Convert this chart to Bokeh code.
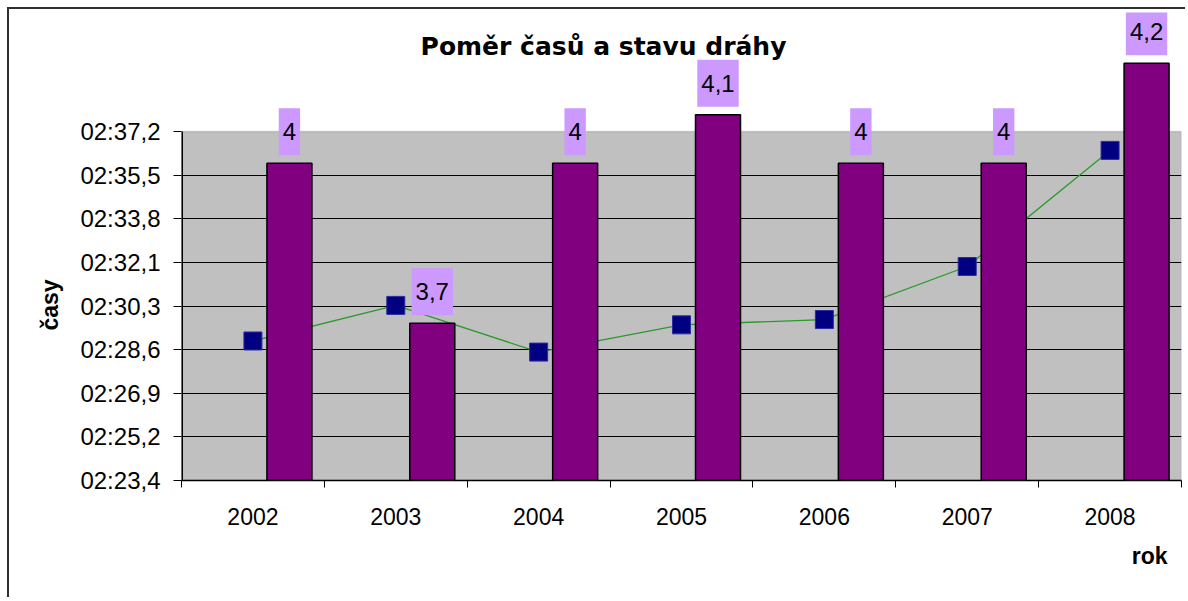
import math
from bokeh.plotting import figure
from bokeh.models import Range1d, FixedTicker, Label, BoxAnnotation, Title
from bokeh.core.properties import value
from bokeh.embed import file_html
from bokeh.resources import INLINE

# ---------------- data ----------------
years = ["2002", "2003", "2004", "2005", "2006", "2007", "2008"]
# stav dráhy (secondary axis, columns)
track_state = [4.0, 3.68, 4.0, 4.097, 4.0, 4.0, 4.2]
# časy in seconds (primary axis, line)
times_sec = [148.95, 150.36, 148.51, 149.59, 149.80, 151.90, 156.50]
# primary axis tick values (seconds)
time_ticks = [143.424, 145.152, 146.88, 148.608, 150.336, 152.064, 153.792, 155.52, 157.248]

title_text = "Poměr časů a stavu dráhy"
y_title = "časy"
x_title = "rok"


def fmt_time(t):
    return f"{int(t // 60):02d}:{t % 60:04.1f}".replace(".", ",")


def fmt_num(v):
    s = f"{v:.1f}"
    if s.endswith(".0"):
        s = s[:-2]
    return s.replace(".", ",")


# ---------------- layout ----------------
OX, OY = 9, 9              # canvas origin on page (margin + border)
W, H = 1178, 590
FR_L, FR_R, FR_T, FR_B = 181, 1181, 12, 480   # frame on page
PX_PER_SEC = 349 / (time_ticks[-1] - time_ticks[0])
SEC_MIN = 3.3654
SEC_PX_PER_UNIT = 500.0

frame_h = FR_B - FR_T
y_lo = time_ticks[0]
y_hi = y_lo + frame_h / PX_PER_SEC
n = len(years)


def px_x(px):
    return (px - FR_L) / (FR_R - FR_L) * n


def px_y(py):
    return y_lo + (FR_B - py) / PX_PER_SEC


p = figure(width=W, height=H, x_range=Range1d(0, n), y_range=Range1d(y_lo, y_hi),
           output_backend="svg", toolbar_location=None,
           min_border_left=FR_L - OX, min_border_right=(OX + W) - FR_R,
           min_border_top=FR_T - OY, min_border_bottom=(OY + H) - FR_B,
           background_fill_color="white", border_fill_color="white",
           outline_line_color=None)
p.styles = {"margin-left": "7px", "margin-top": "7px",
            "border-left": "2px solid #303030", "border-top": "2px solid #303030"}
p.extra_y_ranges = {"sec": Range1d(SEC_MIN, SEC_MIN + frame_h / SEC_PX_PER_UNIT)}

# plot area
p.add_layout(BoxAnnotation(left=0, right=n, bottom=time_ticks[0], top=time_ticks[-1],
                           fill_color="#C0C0C0", fill_alpha=1.0,
                           line_color="#7F7F7F", line_width=1.5, level="image"))

# grid
p.xgrid.visible = False
p.ygrid.ticker = FixedTicker(ticks=time_ticks[1:-1])
p.ygrid.grid_line_color = "black"
p.ygrid.grid_line_width = 1.2

# x axis
centers = [i + 0.5 for i in range(n)]
xa = p.xaxis[0]
xa.ticker = FixedTicker(ticks=centers, minor_ticks=list(range(n + 1)))
xa.major_label_overrides = {c: y for c, y in zip(centers, years)}
xa.major_tick_out = 0
xa.major_tick_in = 0
xa.minor_tick_out = 7
xa.minor_tick_in = 0
xa.minor_tick_line_color = "black"
xa.axis_line_color = "black"
xa.axis_line_width = 1.5
xa.major_label_standoff = 20
xa.major_label_text_font = "Liberation Sans"
xa.major_label_text_font_size = "23px"
xa.major_label_text_color = "black"

# y axis
ya = p.yaxis[0]
ya.ticker = FixedTicker(ticks=time_ticks)
ya.major_label_overrides = {t: fmt_time(t) for t in time_ticks}
ya.axis_line_color = None
ya.major_tick_out = 8
ya.major_tick_in = 0
ya.major_tick_line_color = "black"
ya.minor_tick_line_color = None
ya.major_label_standoff = 13
ya.major_label_text_font = "Liberation Sans"
ya.major_label_text_font_size = "24px"
ya.major_label_text_color = "black"

# y axis line only along the plot area
p.line([0, 0], [time_ticks[0], time_ticks[-1]], line_color="black", line_width=3)

# line series (behind columns)
p.line(centers, times_sec, line_color="#2A9A2A", line_width=1.3)

# columns on secondary axis
bar_w = 45 / (FR_R - FR_L) * n
bar_off = 36.5 / (FR_R - FR_L) * n
bar_x = [c + bar_off for c in centers]
p.vbar(x=bar_x, width=bar_w, top=track_state, bottom=SEC_MIN, y_range_name="sec",
       fill_color="#800080", line_color="black", line_width=1.5)

# markers
p.scatter(centers, times_sec, marker="square", size=18,
          fill_color="#000080", line_color="#2B2BA0", line_width=1)

# data labels
p.text(x=bar_x, y=track_state, text=[fmt_num(v) for v in track_state],
       y_range_name="sec", text_align="center", text_baseline="bottom",
       y_offset=-8, text_font=value("Liberation Sans"), text_font_size="24px",
       text_color="black", background_fill_color="#CC99FF",
       padding=dict(left=4, right=4, top=15, bottom=15))

# chart title
p.add_layout(Label(x=px_x(603), y=px_y(46), text=title_text, text_align="center",
                   text_baseline="middle", text_font="DejaVu Sans", text_font_style="bold",
                   text_font_size="25px", text_color="black"))
# axis titles
p.add_layout(Title(text=y_title, align="left", offset=150,
                   standoff=30, text_font="Liberation Sans", text_font_style="bold",
                   text_font_size="23px", text_color="black"), "left")
p.add_layout(Title(text=x_title, align="right", offset=14, standoff=26,
                   text_font="Liberation Sans", text_font_style="bold",
                   text_font_size="23px", text_color="black"), "below")

open("out.html", "w").write(file_html(p, INLINE))
